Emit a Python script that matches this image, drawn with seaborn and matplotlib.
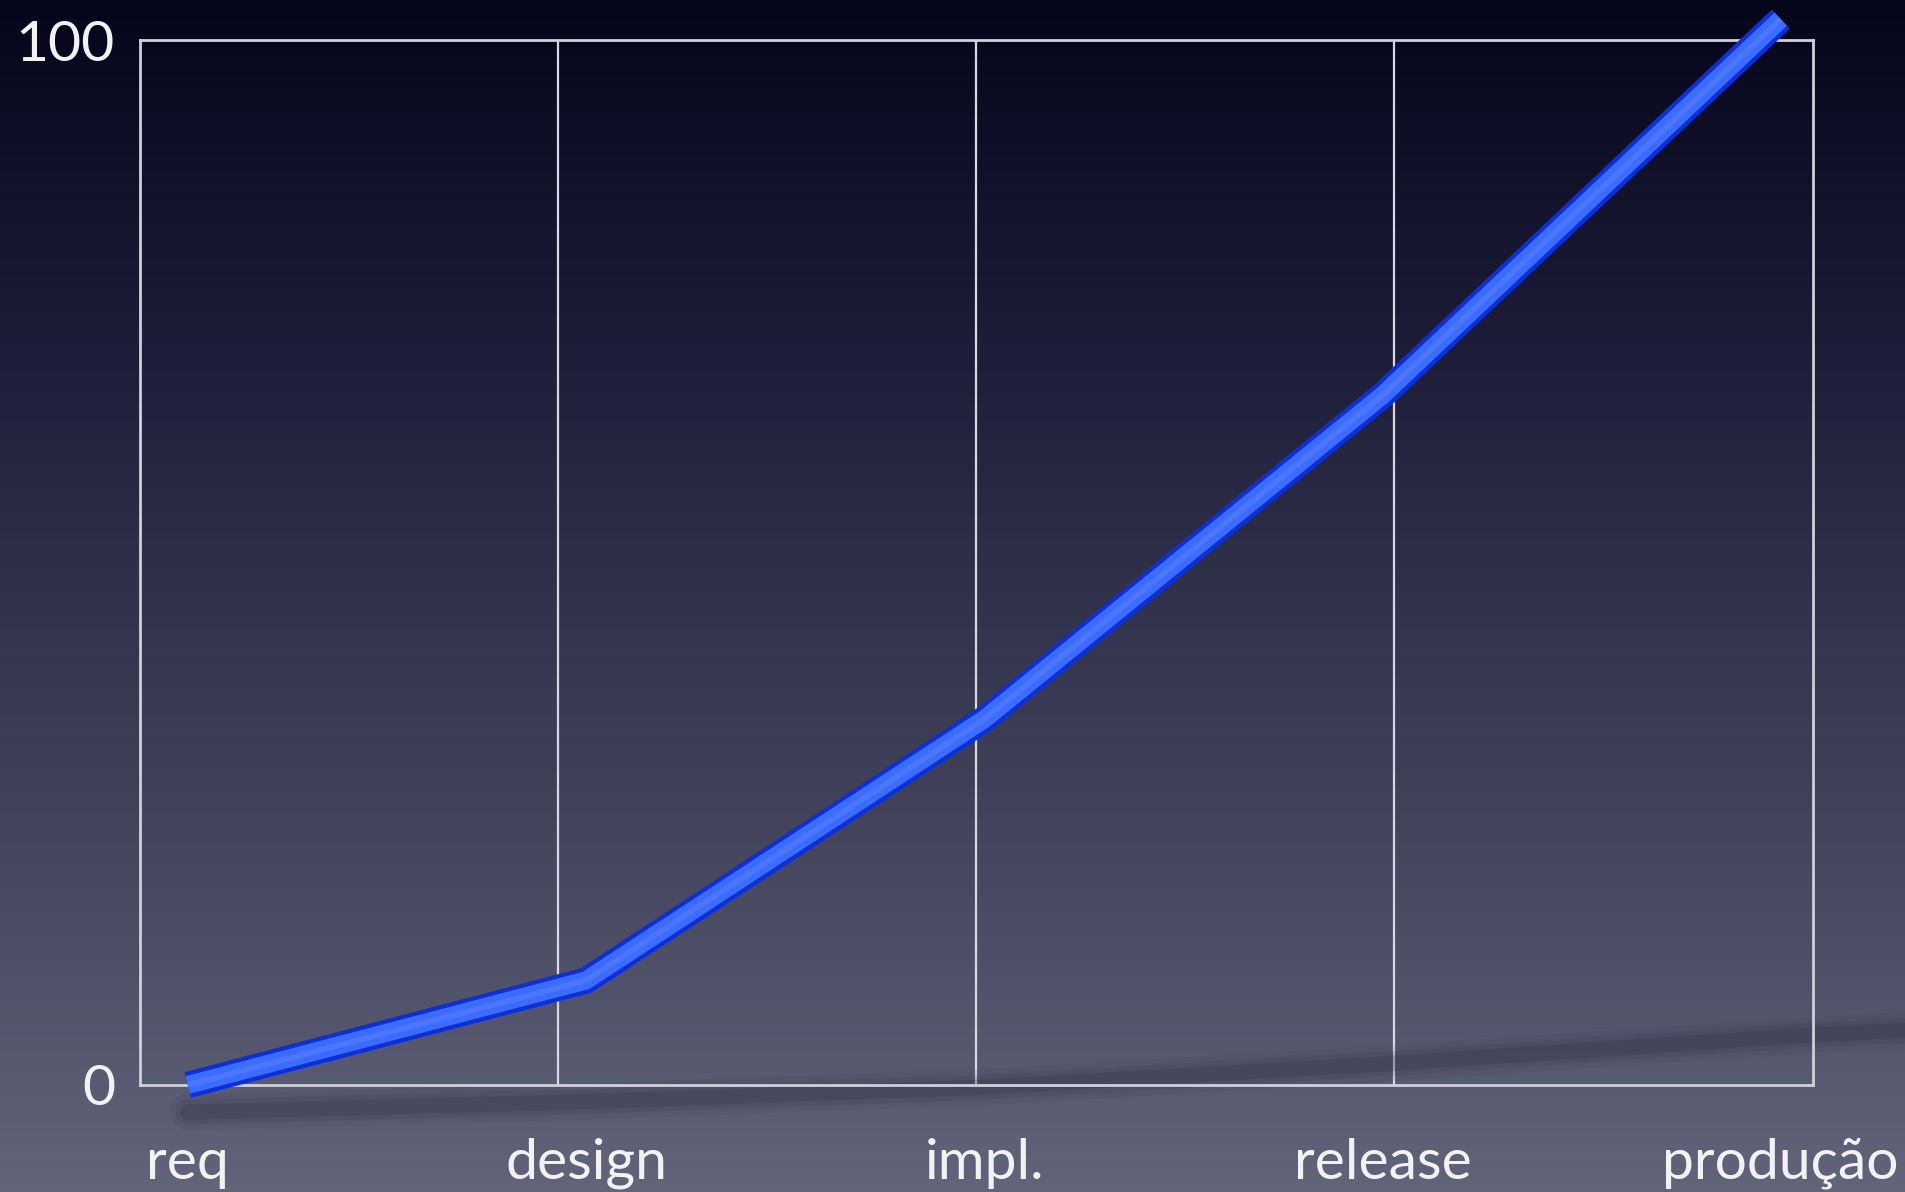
import numpy as np
import pandas as pd
import matplotlib
matplotlib.use("Agg")
import matplotlib.pyplot as plt
from matplotlib.colors import LinearSegmentedColormap
import seaborn as sns

# chart data
stages = ["req", "design", "impl.", "release", "produção"]
cost = [0, 10, 35, 66, 102]
# soft shadow of the line on the "floor" (decorative)
shadow = [-2.6, -1.6, -0.2, 2.0, 4.6]
y_ticks = [0, 100]

sns.set_style("white")
plt.rcParams["font.family"] = ["Lato", "DejaVu Sans"]

df = pd.DataFrame({"pos": np.arange(len(stages)), "stage": stages, "cost": cost})

fig = plt.figure(figsize=(19.05, 11.92), dpi=100)

# background gradient
bg = fig.add_axes([0, 0, 1, 1], zorder=0)
grad_cmap = LinearSegmentedColormap.from_list(
    "bg", [(0.0, "#05051b"), (0.3, "#1e1e3a"), (0.65, "#3f4058"), (1.0, "#62647a")])
bg.imshow(np.linspace(0, 1, 256).reshape(-1, 1), aspect="auto", cmap=grad_cmap,
          extent=[0, 1, 0, 1], origin="upper")
bg.set_axis_off()

ax = fig.add_axes([0.0735, 0.0898, 0.878, 0.8766], zorder=1)
ax.set_facecolor("none")

xmin, xmax = -0.12, 4.08
ax.set_xlim(xmin, xmax)
ax.set_ylim(0, 100)

# vertical grid lines dividing the frame in four
for gx in np.linspace(xmin, xmax, 5)[1:-1]:
    ax.axvline(gx, color="#d8d8e0", lw=1.6, zorder=1)

for side in ["left", "right", "top", "bottom"]:
    ax.spines[side].set_color("#d0d0d8")
    ax.spines[side].set_linewidth(2)

# shadow
sx = np.append(df["pos"].values, 4.35)
sy = np.append(shadow, 5.3)
for lw, a in [(26, 0.08), (18, 0.12), (11, 0.18)]:
    ax.plot(sx, sy, color="#25263a", lw=lw, alpha=a, solid_capstyle="round",
            clip_on=False, zorder=2)

# blue line: dark edge then brighter body
sns.lineplot(data=df, x="pos", y="cost", ax=ax, color="#0c2fd6", lw=19,
             solid_capstyle="butt", zorder=3, clip_on=False)
sns.lineplot(data=df, x="pos", y="cost", ax=ax, color="#3c6bff", lw=13,
             solid_capstyle="butt", zorder=4, clip_on=False)
sns.lineplot(data=df, x="pos", y="cost", ax=ax, color="#5a84ff", lw=4,
             solid_capstyle="butt", zorder=5, clip_on=False, alpha=0.5)

ax.set_xticks(df["pos"])
ax.set_xticklabels(stages)
ax.set_yticks(y_ticks)
ax.set_yticklabels([str(t) for t in y_ticks])
ax.tick_params(axis="x", length=0, pad=38, labelsize=41, labelcolor="#f2f2f5")
ax.tick_params(axis="y", length=0, pad=18, labelsize=41, labelcolor="#f2f2f5")
ax.set_xlabel("")
ax.set_ylabel("")

fig.savefig("out.png", dpi=100)
